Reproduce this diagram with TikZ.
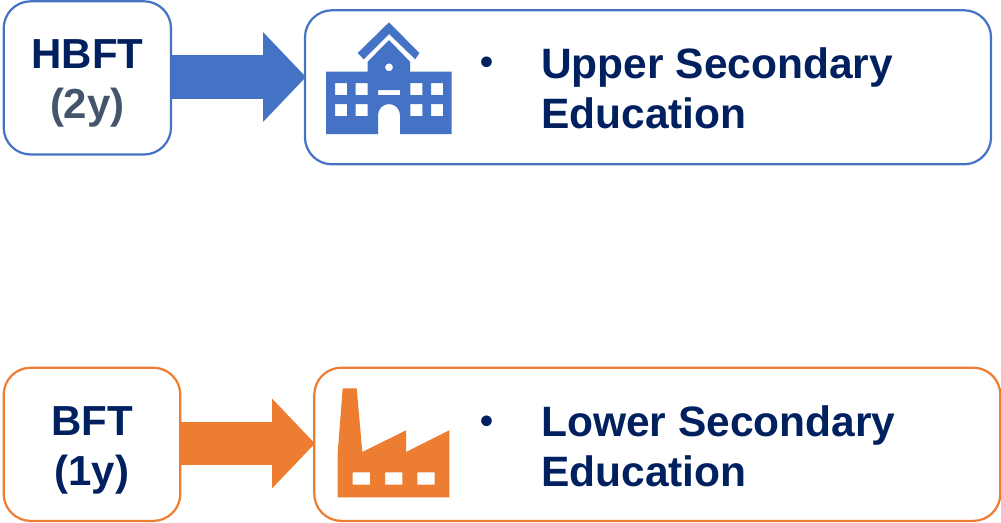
\documentclass[tikz,border=0pt]{standalone}
\usepackage{fontspec}
\setmainfont{Liberation Sans}
\usetikzlibrary{arrows.meta}
\definecolor{navy}{HTML}{002060}
\definecolor{slate}{HTML}{44546A}
\definecolor{blu}{HTML}{4472C4}
\definecolor{ora}{HTML}{ED7D31}
\tikzset{
  card/.style={draw=#1,line width=2.2pt,rounded corners=27pt,fill=white,inner sep=0pt,outer sep=0pt,anchor=north west},
  head/.style={inner sep=0pt,text=navy,align=center,font=\fontsize{42}{50}\selectfont\bfseries},
  label/.style={inner sep=0pt,anchor=base west,text=navy,align=left,font=\fontsize{42.5}{50}\selectfont\bfseries},
  bul/.style={inner sep=0pt,anchor=center,text=navy,font=\fontsize{37}{50}\selectfont\bfseries},
  flow/.style={draw=#1,line width=43.6pt,-{Triangle[length=43pt,width=87.4pt,fill=#1]}}
}
\begin{document}
\begin{tikzpicture}[x=1pt,y=-1pt]
\useasboundingbox (0,0) rectangle (1001,522);
% cards
\node[card=blu,minimum width=167.3pt,minimum height=153.2pt] (hbft) at (3.7,1.3) {};
\node[card=blu,minimum width=686pt,minimum height=154pt] (upper) at (305,10.3) {};
\node[card=ora,minimum width=176.6pt,minimum height=153.2pt] (bft) at (3.7,367.7) {};
\node[card=ora,minimum width=686pt,minimum height=153.2pt] (lower) at (314.3,367.7) {};
\node[head,yshift=-6pt] (hbftt) at (hbft.center) {HBFT\\\textcolor{slate}{(2y)}};
\node[head,yshift=-6pt] (bftt) at (bft.center) {BFT\\(1y)};
% arrows
\draw[flow=blu] (hbft.east) ++(0,-0.9) coordinate (a1) -- ([xshift=1pt]a1 -| upper.west);
\draw[flow=ora] (bft.east) ++(0,-0.8) coordinate (a2) -- ([xshift=0.7pt]a2 -| lower.west);
% texts
\node[bul] (b1) at (487.3,66) {•};
\node[label] (t1) at (541,128) {Upper Secondary\\Education};
\node[bul] (b2) at (487.3,425) {•};
\node[label] (t2) at (541,486) {Lower Secondary\\Education};
% school icon
\fill[blu,even odd rule]
  (326,71.7) -- (367.7,71.7) -- (367.7,61.7) -- (389,40) -- (410,61.7) -- (410,71.7) -- (451.5,71.7) -- (451.5,134) -- (400,134) -- (400,115) arc[start angle=0,end angle=-180,radius=11] -- (378,134) -- (326,134) -- cycle
  (335,83) rectangle (347,95) (355.7,83) rectangle (367.7,95) (410.3,83) rectangle (422.3,95) (431,83) rectangle (443,95)
  (335,104) rectangle (347,116) (355.7,104) rectangle (367.7,116) (410.3,104) rectangle (422.3,116) (431,104) rectangle (443,116)
  (378,90) rectangle (400,95)
  (389,67.3) circle[radius=4];
\fill[blu] (389,22.3) -- (419.3,53) -- (415.3,59.3) -- (389,34) -- (363.7,59.3) -- (357.7,53) -- cycle;
% factory icon
\fill[ora,even odd rule]
  (337.7,497.3) -- (337.7,453) -- (342.7,388.3) -- (356.7,388.3) -- (362.3,452) -- (406,430.3) -- (406,452) -- (449.3,430.3) -- (449.3,497.3) -- cycle
  (352.7,472.3) rectangle (370,484.7) (385,472.3) rectangle (402.3,484.7) (417.3,472.3) rectangle (434.7,484.7);
\end{tikzpicture}
\end{document}
